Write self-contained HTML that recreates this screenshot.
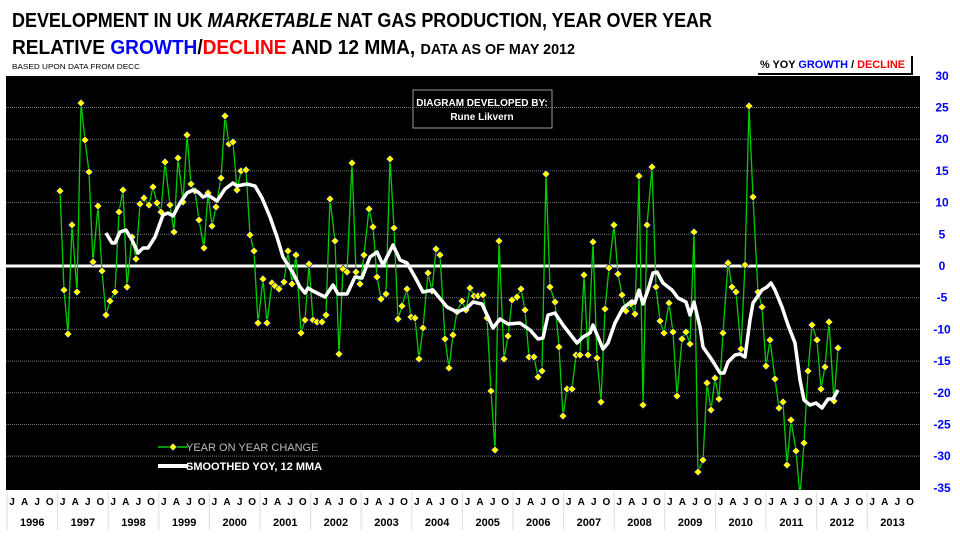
<!DOCTYPE html>
<html><head><meta charset="utf-8"><style>
body{margin:0;background:#fff;}
svg{display:block;font-family:"Liberation Sans",sans-serif;}
</style></head><body>
<svg id="s" width="960" height="540" viewBox="0 0 960 540" xmlns="http://www.w3.org/2000/svg">
<rect width="960" height="540" fill="#fff"/>
<text x="12" y="27" font-size="20" font-weight="bold" fill="#000" textLength="700" lengthAdjust="spacingAndGlyphs">DEVELOPMENT IN UK <tspan font-style="italic">MARKETABLE</tspan> NAT GAS PRODUCTION, YEAR OVER YEAR</text>
<text x="12" y="54" font-size="20" font-weight="bold" fill="#000" textLength="563" lengthAdjust="spacingAndGlyphs">RELATIVE <tspan fill="#0000ff">GROWTH</tspan>/<tspan fill="#ff0000">DECLINE</tspan> AND 12 MMA, <tspan font-size="15">DATA AS OF MAY 2012</tspan></text>
<text x="12" y="69" font-size="7" fill="#000" textLength="128" lengthAdjust="spacingAndGlyphs">BASED UPON DATA FROM  DECC</text>
<text x="760" y="68" font-size="11" font-weight="bold" fill="#000" textLength="145" lengthAdjust="spacingAndGlyphs">% YOY  <tspan fill="#0000ff">GROWTH</tspan> / <tspan fill="#ff0000">DECLINE</tspan></text>
<polyline points="758,74 912,74 912,56" fill="none" stroke="#000" stroke-width="2"/>
<rect x="6" y="76" width="914" height="414" fill="#000"/>
<g id="grid"></g>
<line x1="6" y1="266" x2="920" y2="266" stroke="#fff" stroke-width="3"/>
<rect x="413" y="90" width="139" height="38" fill="none" stroke="#999" stroke-width="1"/>
<text x="482" y="106" font-size="10" font-weight="bold" fill="#fff" text-anchor="middle">DIAGRAM DEVELOPED BY:</text>
<text x="482" y="120" font-size="10" font-weight="bold" fill="#fff" text-anchor="middle">Rune Likvern</text>
<g id="series"></g>
<line x1="158" y1="447" x2="188" y2="447" stroke="#00cc00" stroke-width="1.5"/>
<path d="M173,443 L177,447 L173,451 L169,447Z" fill="#ffff00" stroke="#000080" stroke-width="0.6"/>
<text x="186" y="451" font-size="11" fill="#bbb">YEAR ON YEAR CHANGE</text>
<line x1="158" y1="466" x2="188" y2="466" stroke="#fff" stroke-width="4"/>
<text x="186" y="470" font-size="11" font-weight="bold" fill="#fff">SMOOTHED YOY, 12 MMA</text>
<g id="axis"></g>
</svg>
<script>
var NS="http://www.w3.org/2000/svg";
function el(p,t,a,txt){var e=document.createElementNS(NS,t);for(var k in a)e.setAttribute(k,a[k]);if(txt!=null)e.textContent=txt;p.appendChild(e);return e;}
var grid=document.getElementById("grid"),axis=document.getElementById("axis"),ser=document.getElementById("series");
for(var v=30;v>=-35;v-=5){var y=266-v*6.338;
 if(v!==0&&v!==-35&&v!==30)el(grid,"line",{x1:6,y1:y,x2:920,y2:y,stroke:"#777","stroke-width":1,"stroke-dasharray":"1,1"});
 el(axis,"text",{x:942,y:y+4,"font-size":12,"font-weight":"bold",fill:"#0000ff","text-anchor":"middle"},String(v));}
var yw=50.6,x0=7,L=["J","A","J","O"];
for(var i=0;i<18;i++){var xs=x0+i*yw;
 el(axis,"line",{x1:xs,y1:492,x2:xs,y2:530,stroke:"#ddd","stroke-width":1});
 for(var q=0;q<4;q++)el(axis,"text",{x:xs+5+q*12.6,y:505,"font-size":10,"font-weight":"bold",fill:"#000","text-anchor":"middle"},L[q]);
 el(axis,"text",{x:xs+yw/2,y:526,"font-size":11,"font-weight":"bold",fill:"#000","text-anchor":"middle"},String(1996+i));}
var g="60,191 64,290 68,334 72,225 77,292 81,103 85,140 89,172 93,262 98,206 102,271 106,315 110,301 115,292 119,212 123,190 127,287 132,237 136,259 140,204 144,198 149,205 153,187 157,203 161,212 165,162 170,205 174,232 178,158 183,202 187,135 191,184 195,191 199,220 204,248 208,193 212,226 216,207 221,178 225,116 229,144 233,142 237,190 241,171 246,170 250,235 254,251 258,323 263,279 267,323 272,283 275,286 279,289 284,282 288,251 292,284 296,255 301,333 305,320 309,264 313,320 317,322 322,322 326,315 330,199 335,241 339,354 343,269 347,272 352,163 356,272 360,284 364,255 369,209 373,227 377,277 381,299 386,294 390,159 394,228 398,319 402,306 407,289 411,317 415,318 419,359 423,328 428,273 432,291 436,249 440,255 445,339 449,368 453,335 457,312 462,301 466,310 470,288 474,296 478,296 483,295 487,318 491,391 495,450 499,241 504,359 508,336 512,300 517,297 521,289 525,310 529,357 534,357 538,377 542,371 546,174 550,287 555,302 559,347 563,416 567,389 572,389 576,355 580,355 584,275 588,355 593,242 597,358 601,402 605,309 609,268 614,225 618,274 622,295 626,311 631,304 635,314 639,176 643,405 647,225 652,167 656,287 660,321 664,333 669,303 673,332 677,396 682,339 686,332 690,344 694,232 698,472 703,460 707,383 711,410 715,378 719,399 723,333 728,263 732,287 736,292 741,349 745,265 749,106 753,197 758,292 762,307 766,366 770,340 775,379 779,408 783,402 787,465 791,420 796,451 800,496 804,443 808,371 812,325 817,340 821,389 825,367 829,322 834,401 838,348";
var m="106,233 112,243 115,243 120,232 126,230 132,240 138,253 143,248 148,248 155,237 163,215 168,213 173,216 180,203 187,193 193,190 198,192 203,197 208,195 217,201 225,189 233,183 237,186 247,184 255,186 262,198 270,217 277,237 283,257 293,273 300,287 305,293 308,288 313,291 325,297 333,285 338,294 347,294 355,277 362,278 370,257 377,252 383,265 393,245 400,260 407,263 415,277 423,292 433,290 447,307 457,312 467,308 473,302 482,304 493,328 500,319 508,324 520,323 530,330 538,339 543,338 548,315 555,313 563,325 577,343 583,337 590,333 593,325 603,349 608,343 615,323 623,308 632,301 635,303 639,290 643,304 648,290 653,273 657,272 663,283 672,290 678,298 686,302 690,315 694,302 700,327 703,347 712,360 720,373 724,373 728,362 735,355 740,354 745,357 750,320 753,303 762,290 767,287 771,283 775,290 782,307 788,325 795,343 800,380 804,400 810,405 816,403 822,408 828,399 833,399 838,390";
var clip=el(ser,"clipPath",{id:"c"});el(clip,"rect",{x:6,y:76,width:914,height:414});
var gg=el(ser,"g",{"clip-path":"url(#c)"});
el(gg,"polyline",{points:g,fill:"none",stroke:"#00cc00","stroke-width":1.3});
g.split(" ").forEach(function(p){var a=p.split(",");var x=+a[0],y=+a[1];
 el(gg,"path",{d:"M"+x+","+(y-4)+"L"+(x+4)+","+y+"L"+x+","+(y+4)+"L"+(x-4)+","+y+"Z",fill:"#ffff00",stroke:"#000080","stroke-width":0.6});});
el(gg,"polyline",{points:m,fill:"none",stroke:"#fff","stroke-width":3.5,"stroke-linejoin":"round"});
</script>
</body></html>
